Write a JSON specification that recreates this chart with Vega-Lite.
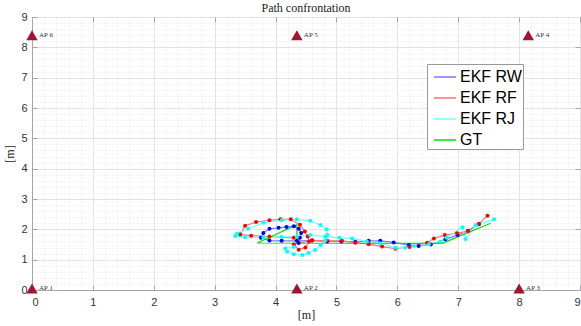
{
  "$schema": "https://vega.github.io/schema/vega-lite/v6.json",
  "autosize": "none",
  "padding": {"left": 32, "top": 17, "right": 1, "bottom": 36},
  "width": 548,
  "height": 273,
  "background": "white",
  "title": {"text": "Path confrontation", "font": "Liberation Serif", "fontSize": 12, "fontWeight": "normal", "color": "#222", "offset": -4},
  "config": {"view": {"stroke": "#a6a6a6", "strokeWidth": 1}},
  "datasets": {
    "paths": [
      {"series": "EKF RW", "i": 1, "x": 4.38, "y": 1.55},
      {"series": "EKF RW", "i": 2, "x": 4.4, "y": 1.72},
      {"series": "EKF RW", "i": 3, "x": 4.42, "y": 1.88},
      {"series": "EKF RW", "i": 4, "x": 4.38, "y": 2.02},
      {"series": "EKF RW", "i": 5, "x": 4.3, "y": 2.1},
      {"series": "EKF RW", "i": 6, "x": 4.18, "y": 2.08},
      {"series": "EKF RW", "i": 7, "x": 4.05, "y": 2.05},
      {"series": "EKF RW", "i": 8, "x": 3.9, "y": 2.02},
      {"series": "EKF RW", "i": 9, "x": 3.8, "y": 1.88},
      {"series": "EKF RW", "i": 10, "x": 3.76, "y": 1.72},
      {"series": "EKF RW", "i": 11, "x": 3.9, "y": 1.63},
      {"series": "EKF RW", "i": 12, "x": 4.1, "y": 1.62},
      {"series": "EKF RW", "i": 13, "x": 4.35, "y": 1.62},
      {"series": "EKF RW", "i": 14, "x": 4.6, "y": 1.63},
      {"series": "EKF RW", "i": 15, "x": 4.85, "y": 1.6},
      {"series": "EKF RW", "i": 16, "x": 5.08, "y": 1.6},
      {"series": "EKF RW", "i": 17, "x": 5.31, "y": 1.59},
      {"series": "EKF RW", "i": 18, "x": 5.53, "y": 1.62},
      {"series": "EKF RW", "i": 19, "x": 5.72, "y": 1.62},
      {"series": "EKF RW", "i": 20, "x": 5.94, "y": 1.57},
      {"series": "EKF RW", "i": 21, "x": 6.19, "y": 1.48},
      {"series": "EKF RW", "i": 22, "x": 6.35, "y": 1.45},
      {"series": "EKF RW", "i": 23, "x": 6.55, "y": 1.5},
      {"series": "EKF RW", "i": 24, "x": 6.79, "y": 1.67},
      {"series": "EKF RW", "i": 25, "x": 6.99, "y": 1.81},
      {"series": "EKF RW", "i": 26, "x": 7.16, "y": 1.95},
      {"series": "EKF RW", "i": 27, "x": 7.34, "y": 2.17},
      {"series": "EKF RF", "i": 1, "x": 4.3, "y": 1.72},
      {"series": "EKF RF", "i": 2, "x": 3.9, "y": 1.76},
      {"series": "EKF RF", "i": 3, "x": 3.6, "y": 1.79},
      {"series": "EKF RF", "i": 4, "x": 3.42, "y": 1.83},
      {"series": "EKF RF", "i": 5, "x": 3.5, "y": 2.12},
      {"series": "EKF RF", "i": 6, "x": 3.68, "y": 2.24},
      {"series": "EKF RF", "i": 7, "x": 3.9, "y": 2.3},
      {"series": "EKF RF", "i": 8, "x": 4.08, "y": 2.33},
      {"series": "EKF RF", "i": 9, "x": 4.25, "y": 2.33},
      {"series": "EKF RF", "i": 10, "x": 4.4, "y": 2.15},
      {"series": "EKF RF", "i": 11, "x": 4.48, "y": 1.93},
      {"series": "EKF RF", "i": 12, "x": 4.53, "y": 1.76},
      {"series": "EKF RF", "i": 13, "x": 4.55, "y": 1.6},
      {"series": "EKF RF", "i": 14, "x": 4.49, "y": 1.4},
      {"series": "EKF RF", "i": 15, "x": 4.38, "y": 1.33},
      {"series": "EKF RF", "i": 16, "x": 4.3, "y": 1.5},
      {"series": "EKF RF", "i": 17, "x": 4.6, "y": 1.64},
      {"series": "EKF RF", "i": 18, "x": 4.85, "y": 1.62},
      {"series": "EKF RF", "i": 19, "x": 5.09, "y": 1.62},
      {"series": "EKF RF", "i": 20, "x": 5.31, "y": 1.56},
      {"series": "EKF RF", "i": 21, "x": 5.53, "y": 1.51},
      {"series": "EKF RF", "i": 22, "x": 5.75, "y": 1.43},
      {"series": "EKF RF", "i": 23, "x": 5.97, "y": 1.36},
      {"series": "EKF RF", "i": 24, "x": 6.2, "y": 1.42},
      {"series": "EKF RF", "i": 25, "x": 6.49, "y": 1.56},
      {"series": "EKF RF", "i": 26, "x": 6.6, "y": 1.7},
      {"series": "EKF RF", "i": 27, "x": 6.78, "y": 1.81},
      {"series": "EKF RF", "i": 28, "x": 6.98, "y": 1.87},
      {"series": "EKF RF", "i": 29, "x": 7.16, "y": 1.95},
      {"series": "EKF RF", "i": 30, "x": 7.34, "y": 2.18},
      {"series": "EKF RF", "i": 31, "x": 7.48, "y": 2.45},
      {"series": "EKF RJ", "i": 1, "x": 4.3, "y": 1.42},
      {"series": "EKF RJ", "i": 2, "x": 4.16, "y": 1.37},
      {"series": "EKF RJ", "i": 3, "x": 4.19, "y": 1.26},
      {"series": "EKF RJ", "i": 4, "x": 4.3, "y": 1.18},
      {"series": "EKF RJ", "i": 5, "x": 4.44, "y": 1.15},
      {"series": "EKF RJ", "i": 6, "x": 4.54, "y": 1.22},
      {"series": "EKF RJ", "i": 7, "x": 4.65, "y": 1.32},
      {"series": "EKF RJ", "i": 8, "x": 4.74, "y": 1.48},
      {"series": "EKF RJ", "i": 9, "x": 4.82, "y": 1.65},
      {"series": "EKF RJ", "i": 10, "x": 4.85, "y": 1.81},
      {"series": "EKF RJ", "i": 11, "x": 4.84, "y": 2.0},
      {"series": "EKF RJ", "i": 12, "x": 4.74, "y": 2.14},
      {"series": "EKF RJ", "i": 13, "x": 4.57, "y": 2.28},
      {"series": "EKF RJ", "i": 14, "x": 4.35, "y": 2.33},
      {"series": "EKF RJ", "i": 15, "x": 4.1, "y": 2.3},
      {"series": "EKF RJ", "i": 16, "x": 3.8, "y": 2.22},
      {"series": "EKF RJ", "i": 17, "x": 3.55, "y": 2.02},
      {"series": "EKF RJ", "i": 18, "x": 3.37, "y": 1.86},
      {"series": "EKF RJ", "i": 19, "x": 3.34, "y": 1.78},
      {"series": "EKF RJ", "i": 20, "x": 3.5, "y": 1.74},
      {"series": "EKF RJ", "i": 21, "x": 3.8, "y": 1.74},
      {"series": "EKF RJ", "i": 22, "x": 4.1, "y": 1.75},
      {"series": "EKF RJ", "i": 23, "x": 4.35, "y": 1.76},
      {"series": "EKF RJ", "i": 24, "x": 4.57, "y": 1.81},
      {"series": "EKF RJ", "i": 25, "x": 4.82, "y": 1.76},
      {"series": "EKF RJ", "i": 26, "x": 5.05, "y": 1.72},
      {"series": "EKF RJ", "i": 27, "x": 5.26, "y": 1.7},
      {"series": "EKF RJ", "i": 28, "x": 5.5, "y": 1.6},
      {"series": "EKF RJ", "i": 29, "x": 5.72, "y": 1.54},
      {"series": "EKF RJ", "i": 30, "x": 5.97, "y": 1.39},
      {"series": "EKF RJ", "i": 31, "x": 6.13, "y": 1.39},
      {"series": "EKF RJ", "i": 32, "x": 6.27, "y": 1.45},
      {"series": "EKF RJ", "i": 33, "x": 6.52, "y": 1.51},
      {"series": "EKF RJ", "i": 34, "x": 6.71, "y": 1.59},
      {"series": "EKF RJ", "i": 35, "x": 6.81, "y": 1.72},
      {"series": "EKF RJ", "i": 36, "x": 7.07, "y": 2.07},
      {"series": "EKF RJ", "i": 37, "x": 7.12, "y": 1.68},
      {"series": "EKF RJ", "i": 38, "x": 7.29, "y": 2.14},
      {"series": "EKF RJ", "i": 39, "x": 7.59, "y": 2.33},
      {"series": "GT", "i": 1, "x": 4.35, "y": 1.55},
      {"series": "GT", "i": 2, "x": 4.35, "y": 2.15},
      {"series": "GT", "i": 3, "x": 3.7, "y": 1.55},
      {"series": "GT", "i": 4, "x": 6.74, "y": 1.54},
      {"series": "GT", "i": 5, "x": 7.53, "y": 2.2}
    ],
    "aps": [
      {"name": "AP 1", "x": 0, "y": 0.05},
      {"name": "AP 2", "x": 4.35, "y": 0.05},
      {"name": "AP 3", "x": 8.0, "y": 0.05},
      {"name": "AP 4", "x": 8.15, "y": 8.4},
      {"name": "AP 5", "x": 4.35, "y": 8.4},
      {"name": "AP 6", "x": 0, "y": 8.4}
    ]
  },
  "resolve": {"axis": {"x": "independent", "y": "independent"}},
  "layer": [
    {
      "data": {"name": "paths"},
      "mark": {"type": "line", "strokeWidth": 1.2, "clip": true},
      "encoding": {
        "x": {"field": "x", "type": "quantitative", "scale": {"domain": [0, 9], "nice": false, "zero": false},
          "axis": {"orient": "bottom", "values": [0.2,0.4,0.6,0.8,1.2,1.4,1.6,1.8,2.2,2.4,2.6,2.8,3.2,3.4,3.6,3.8,4.2,4.4,4.6,4.8,5.2,5.4,5.6,5.8,6.2,6.4,6.6,6.8,7.2,7.4,7.6,7.8,8.2,8.4,8.6,8.8],
            "labels": false, "ticks": false, "domain": false, "title": null, "grid": true, "gridColor": "#efefef", "gridDash": [2, 2], "gridWidth": 1}},
        "y": {"field": "y", "type": "quantitative", "scale": {"domain": [0, 9], "nice": false, "zero": false},
          "axis": {"orient": "left", "values": [0.2,0.4,0.6,0.8,1.2,1.4,1.6,1.8,2.2,2.4,2.6,2.8,3.2,3.4,3.6,3.8,4.2,4.4,4.6,4.8,5.2,5.4,5.6,5.8,6.2,6.4,6.6,6.8,7.2,7.4,7.6,7.8,8.2,8.4,8.6,8.8],
            "labels": false, "ticks": false, "domain": false, "title": null, "grid": true, "gridColor": "#efefef", "gridDash": [2, 2], "gridWidth": 1}},
        "order": {"field": "i", "type": "quantitative"},
        "stroke": {"field": "series", "type": "nominal",
          "scale": {"domain": ["EKF RW", "EKF RF", "EKF RJ", "GT"], "range": ["#7a7aff", "#ff7070", "#70ffff", "#00e000"]},
          "legend": {"orient": "none", "legendX": 395, "legendY": 47, "title": null, "symbolType": "stroke", "symbolSize": 484, "symbolStrokeWidth": 1.5, "symbolOffset": 5,
            "labelFont": "Liberation Sans", "labelFontSize": 16, "labelColor": "#000", "rowPadding": 1, "padding": 1,
            "strokeColor": "#999999", "fillColor": "white", "labelOffset": 3, "labelLimit": 200}}
      }
    },
    {
      "data": {"name": "paths"},
      "transform": [{"filter": "datum.series !== 'GT'"}],
      "mark": {"type": "point", "filled": true, "size": 16, "opacity": 1},
      "encoding": {
        "x": {"field": "x", "type": "quantitative",
          "axis": {"orient": "bottom", "values": [0,1,2,3,4,5,6,7,8,9], "title": "[m]", "titleFont": "Liberation Serif", "titleFontSize": 12, "titleFontWeight": "normal", "titleColor": "#222", "titlePadding": 2,
            "labelFont": "Liberation Sans", "labelFontSize": 11, "labelColor": "#333", "labelPadding": 11,
            "domainColor": "#a6a6a6", "tickColor": "#a6a6a6", "tickSize": -5, "grid": true, "gridColor": "#e3e3e3", "gridWidth": 1}},
        "y": {"field": "y", "type": "quantitative",
          "axis": {"orient": "left", "values": [0,1,2,3,4,5,6,7,8,9], "title": "[m]", "titleFont": "Liberation Serif", "titleFontSize": 12, "titleFontWeight": "normal", "titleColor": "#222", "titlePadding": 4,
            "labelFont": "Liberation Sans", "labelFontSize": 11, "labelColor": "#333", "labelPadding": 10,
            "domainColor": "#a6a6a6", "tickColor": "#a6a6a6", "tickSize": -5, "grid": true, "gridColor": "#e3e3e3", "gridWidth": 1}},
        "fill": {"field": "series", "type": "nominal",
          "scale": {"domain": ["EKF RW", "EKF RF", "EKF RJ"], "range": ["#0000ff", "#ff0000", "#00ffff"]}, "legend": null}
      }
    },
    {
      "data": {"name": "aps"},
      "layer": [
        {
          "mark": {"type": "point", "shape": "triangle-up", "filled": true, "size": 130, "color": "#a2142f", "opacity": 1},
          "encoding": {
            "x": {"field": "x", "type": "quantitative",
              "axis": {"orient": "top", "values": [0,1,2,3,4,5,6,7,8,9], "labels": false, "title": null, "domain": false, "grid": false, "tickColor": "#a6a6a6", "tickSize": -5}},
            "y": {"field": "y", "type": "quantitative",
              "axis": {"orient": "right", "values": [0,1,2,3,4,5,6,7,8,9], "labels": false, "title": null, "domain": false, "grid": false, "tickColor": "#a6a6a6", "tickSize": -5}}
          }
        },
        {
          "mark": {"type": "text", "align": "left", "baseline": "middle", "dx": 7, "font": "Liberation Serif", "fontSize": 7, "color": "#333"},
          "encoding": {
            "x": {"field": "x", "type": "quantitative"},
            "y": {"field": "y", "type": "quantitative"},
            "text": {"field": "name"}
          }
        }
      ]
    }
  ]
}
